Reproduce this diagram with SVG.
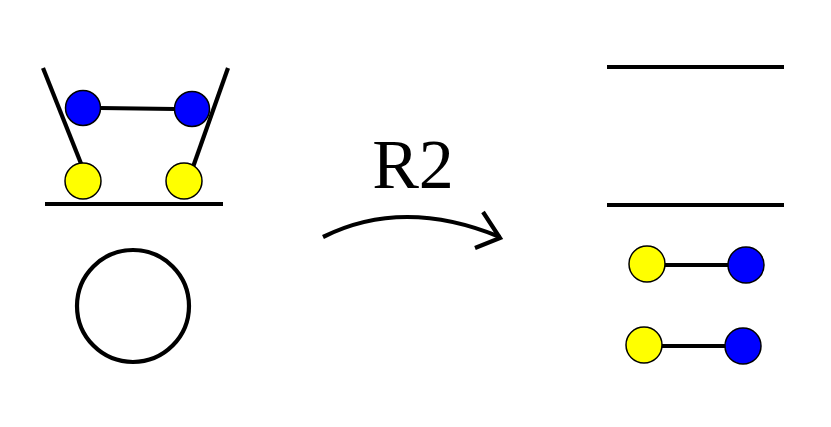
<svg xmlns="http://www.w3.org/2000/svg" width="831" height="427" viewBox="0 0 831 427">
<style>
.ln{stroke:#000;stroke-width:4.2;fill:none;stroke-linecap:butt}
.y{fill:#ffff00;stroke:#000;stroke-width:1.5}
.b{fill:#0000ff;stroke:#000;stroke-width:1.5}
.lbl{font-family:"Liberation Serif",serif;font-size:70px;fill:#000}
</style>
<rect width="831" height="427" fill="#fff"/>
<g id="connectors">
<line class="ln" x1="43" y1="68" x2="82" y2="166"/>
<line class="ln" x1="228" y1="68" x2="193" y2="167"/>
<line class="ln" x1="100" y1="108" x2="175" y2="109"/>
<line class="ln" x1="45" y1="204" x2="223" y2="204"/>
<line class="ln" x1="665" y1="265" x2="728" y2="265"/>
<line class="ln" x1="662" y1="346" x2="725" y2="346"/>
<path class="ln" d="M323,237 Q403,197 500,237"/>
<polyline class="ln" points="483,212 500,238 475,248"/>
</g>
<g id="left-mech">
<circle class="b" cx="83" cy="108" r="17.5"/>
<circle class="b" cx="192" cy="109" r="17.5"/>
<circle class="y" cx="83" cy="181" r="18"/>
<circle class="y" cx="184" cy="181" r="18"/>
</g>
<g id="ring"><circle class="ln" cx="133" cy="306" r="56"/></g>
<g id="label"><text class="lbl" x="413" y="188" text-anchor="middle">R2</text></g>
<g id="right-lines">
<line class="ln" x1="607" y1="67" x2="784" y2="67"/>
<line class="ln" x1="607" y1="205" x2="784" y2="205"/>
</g>
<g id="pair1">
<circle class="y" cx="647" cy="264" r="18"/>
<circle class="b" cx="746" cy="265" r="18"/>
</g>
<g id="pair2">
<circle class="y" cx="644" cy="345" r="18"/>
<circle class="b" cx="743" cy="346" r="18"/>
</g>
</svg>
